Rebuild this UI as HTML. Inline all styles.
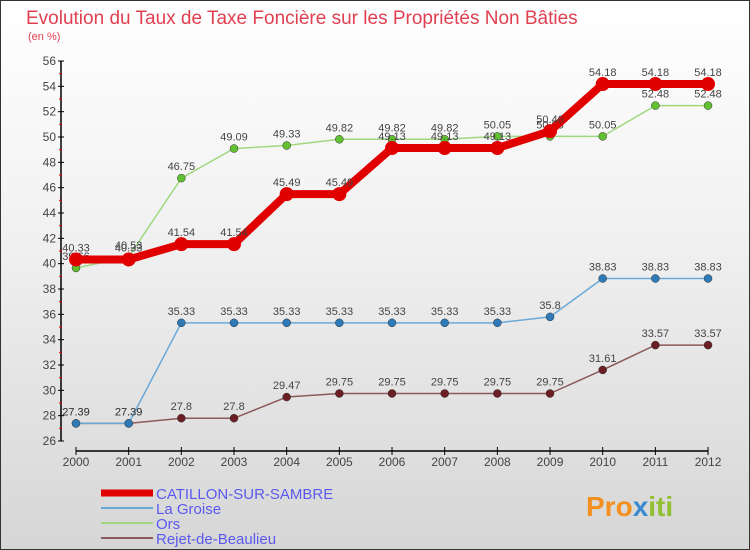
<!DOCTYPE html>
<html><head><meta charset="utf-8"><style>
body{margin:0}
#c{width:750px;height:550px;position:relative;overflow:hidden;box-sizing:border-box;border:1px solid #333;background:linear-gradient(#ffffff,#f2f2f2 40%,#d6d6d6)}
text{font-family:"Liberation Sans",sans-serif}
</style></head><body>
<div id="c">
<svg id="s" width="750" height="550" xmlns="http://www.w3.org/2000/svg">
<text x="25" y="23" font-size="19" fill="#e04050">Evolution du Taux de Taxe Foncière sur les Propriétés Non Bâties</text>
<text x="27" y="39" font-size="11" fill="#e04050">(en %)</text>
<g id="axes"></g><g id="series"></g>
<text x="585" y="515" font-size="28" font-weight="bold" fill="#f39020">Pro<tspan fill="#3a8ad0">x</tspan><tspan fill="#90c030">iti</tspan></text>
</svg></div>
<script>
const years=[2000,2001,2002,2003,2004,2005,2006,2007,2008,2009,2010,2011,2012];
const catillon=[40.33,40.33,41.54,41.54,45.49,45.49,49.13,49.13,49.13,50.46,54.18,54.18,54.18];
const groise=[27.39,27.39,35.33,35.33,35.33,35.33,35.33,35.33,35.33,35.8,38.83,38.83,38.83];
const ors=[39.66,40.53,46.75,49.09,49.33,49.82,49.82,49.82,50.05,50.05,50.05,52.48,52.48];
const rejet=[27.39,27.39,27.8,27.8,29.47,29.75,29.75,29.75,29.75,29.75,31.61,33.57,33.57];
const yTicks=[26,28,30,32,34,36,38,40,42,44,46,48,50,52,54,56];
const names=["CATILLON-SUR-SAMBRE","La Groise","Ors","Rejet-de-Beaulieu"];
const NS="http://www.w3.org/2000/svg";
const X=i=>75+i*52.67, Y=v=>60+(56-v)/30*380;
function mk(t,a,p){const e=document.createElementNS(NS,t);for(const k in a)e.setAttribute(k,a[k]);p.appendChild(e);return e;}
const ax=document.getElementById('axes'), sg=document.getElementById('series');
let l=mk('line',{x1:60,y1:60,x2:60,y2:440,stroke:'#000','stroke-width':1.5},ax);


l=mk('line',{x1:75,y1:450,x2:707,y2:450,stroke:'#000','stroke-width':1.5},ax);


yTicks.forEach(v=>{
 mk('line',{x1:57,x2:63,y1:Y(v),y2:Y(v),stroke:'#000'},ax);
 if(v<56)mk('line',{x1:58,x2:61,y1:Y(v+1),y2:Y(v+1),stroke:'#e00'},ax);
 const t=mk('text',{x:55,y:Y(v)+4,'font-size':12,fill:'#444','text-anchor':'end'},ax);t.textContent=v;
 
 
});
years.forEach((y,i)=>{
 mk('line',{x1:X(i),x2:X(i),y1:446,y2:454,stroke:'#000'},ax);
 const t=mk('text',{x:X(i),y:465,'font-size':12,fill:'#444','text-anchor':'middle'},ax);t.textContent=y;
 
 
});
const series=[[rejet,'#6b1f24','#8c5a5a',1.5,4],[groise,'#2e7ab8','#6aa8d8',1.5,4],[ors,'#60c030','#a0d880',1.5,4],[catillon,'#e00000','#e00000',8,7]];
const keys=['rejet','groise','ors','catillon'];
series.forEach(([d,pc,lc,w,r],k)=>{
 const g=mk('g',{},sg);
 
 
 mk('polyline',{points:d.map((v,i)=>X(i)+','+Y(v)).join(' '),fill:'none',stroke:lc,'stroke-width':w,'stroke-linejoin':'round'},g);
 d.forEach((v,i)=>{
  const c=mk('circle',{cx:X(i),cy:Y(v),r:r,fill:pc,stroke:k==3?'none':'#333','stroke-width':0.5},g);
  
  
  const t=mk('text',{x:X(i),y:Y(v)-8,'font-size':11,fill:'#444','text-anchor':'middle'},g);t.textContent=v;
  
  
 });
});
const lg=[['#e00000',7],['#6aa8d8',2],['#a0d880',2],['#8c5a5a',2]];
lg.forEach(([c,w],i)=>{
 const y=492+i*15;
 const g=mk('g',{},sg);
 
 
 mk('line',{x1:100,x2:152,y1:y,y2:y,stroke:c,'stroke-width':w},g);
 const t=mk('text',{x:155,y:y+6,'font-size':15,fill:'#5a5af0'},g);t.textContent=names[i];
});
</script>
</body></html>
